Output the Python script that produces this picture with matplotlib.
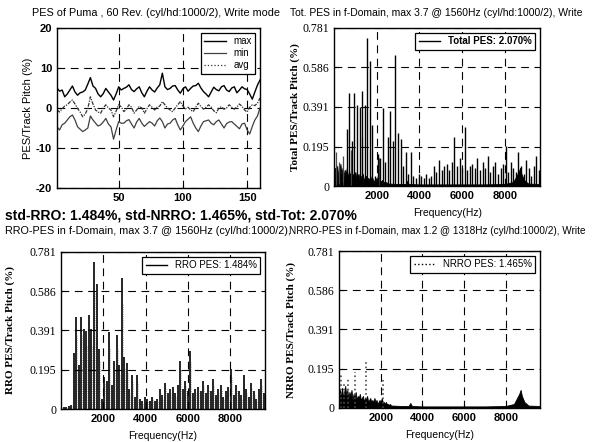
import numpy as np
import matplotlib
matplotlib.use('Agg')
import matplotlib.pyplot as plt

# ---- time domain PES (every 2nd rev sample) ----
sample = np.arange(2, 161, 2)
pes_max = [5.0, 4.2, 4.5, 2.8, 3.5, 4.5, 5.5, 4.0, 3.2, 3.8, 4.0, 4.5, 6.0, 7.6, 5.5, 4.9,
           3.5, 2.8, 3.6, 4.9, 4.0, 3.2, 2.0, 3.5, 5.3, 4.5, 4.9, 5.2, 5.8, 4.6, 4.1, 4.8,
           5.3, 3.8, 2.8, 4.2, 5.3, 4.5, 4.0, 5.0, 5.8, 8.7, 5.3, 4.6, 4.9, 5.5, 5.6, 4.5,
           3.7, 4.8, 5.3, 4.2, 4.9, 5.5, 5.6, 6.2, 5.0, 4.1, 3.5, 2.8, 4.0, 5.2, 4.6, 4.3,
           5.3, 5.6, 4.5, 4.1, 5.0, 5.3, 3.8, 4.5, 5.3, 4.8, 4.6, 3.5, 2.2, 4.0, 5.7, 7.0]
pes_min = [-4.7, -5.5, -4.2, -3.8, -3.0, -2.2, -1.75, -3.0, -4.7, -5.3, -5.9, -5.5, -5.0, -2.0,
           -3.0, -3.8, -4.5, -4.2, -3.5, -2.6, -4.0, -4.7, -7.8, -5.5, -3.4, -3.8, -3.8, -3.2,
           -2.9, -4.0, -5.0, -3.5, -2.6, -3.8, -4.6, -4.0, -3.4, -3.8, -4.5, -3.2, -2.5, -3.4,
           -5.0, -4.0, -3.8, -3.0, -2.6, -4.2, -5.5, -4.5, -3.4, -2.8, -2.2, -3.8, -5.0, -5.9,
           -4.5, -3.4, -3.2, -3.0, -3.8, -4.2, -3.4, -3.0, -4.0, -5.0, -3.9, -3.5, -3.4, -4.0,
           -4.6, -5.2, -4.0, -3.8, -5.5, -6.5, -4.6, -3.0, -2.0, 0.0]
pes_avg = [-0.5, -1.0, -0.2, 0.5, 0.8, 1.5, 2.0, 1.0, -0.1, -1.0, -2.2, -1.5, -0.1, 2.8, 1.0,
           -0.5, -1.0, -1.3, 0.0, 0.8, 0.0, -0.5, -2.2, -0.8, 0.8, 0.3, -0.9, -0.3, 0.8, 0.2,
           -1.3, -0.5, 0.4, 0.0, -1.3, -0.2, 0.8, 0.2, -0.5, 0.2, 0.5, 1.6, 0.8, 0.0, -0.5,
           -0.9, 0.0, 0.8, 1.6, 0.5, -0.2, 0.2, -0.5, -0.9, 0.2, 1.2, 0.4, -0.3, 0.2, 0.8,
           0.2, -0.7, -1.2, 0.0, 0.3, -0.3, 0.0, 0.8, 0.2, -0.3, 0.3, 1.0, 0.4, -0.5, -1.0,
           0.2, 0.8, 0.6, 1.2, 2.5]

# ---- RRO harmonics, 120 Hz spacing ----
harm_freq = np.arange(1, 81) * 120
rro_amp = [0.01, 0.01, 0.015, 0.02, 0.28, 0.46, 0.22, 0.46, 0.40, 0.39, 0.47, 0.40, 0.73, 0.62,
           0.30, 0.05, 0.16, 0.14, 0.385, 0.12, 0.24, 0.37, 0.22, 0.65, 0.26, 0.23, 0.10, 0.17,
           0.06, 0.17, 0.05, 0.04, 0.06, 0.05, 0.04, 0.06, 0.04, 0.05, 0.10, 0.07, 0.13, 0.08,
           0.10, 0.11, 0.08, 0.12, 0.24, 0.10, 0.14, 0.09, 0.29, 0.08, 0.10, 0.11, 0.09, 0.14,
           0.08, 0.12, 0.09, 0.15, 0.07, 0.10, 0.12, 0.06, 0.09, 0.11, 0.20, 0.07, 0.12, 0.09,
           0.07, 0.17, 0.10, 0.06, 0.13, 0.09, 0.05, 0.10, 0.15, 0.08]

# ---- NRRO: a few peaks + broadband floor ----
nrro_peak_freq = [100, 250, 430, 780, 1300, 2100]
nrro_peak_amp = [0.17, 0.12, 0.15, 0.18, 0.24, 0.14]

noise_freq = list(range(0, 2550, 50)) + [2600, 3000, 3350, 3420, 3500, 4000, 5000, 6000, 7000,
                                         8000, 8400, 8550, 8650, 8720, 8780, 8900, 9100, 9650]
noise_amp = [0.02, 0.09, 0.06, 0.10, 0.05, 0.08, 0.11, 0.06, 0.09, 0.05, 0.08, 0.06, 0.09, 0.04,
             0.07, 0.05, 0.08, 0.04, 0.06, 0.05, 0.07, 0.04, 0.05, 0.06, 0.03, 0.05, 0.04, 0.06,
             0.03, 0.04, 0.05, 0.03, 0.04, 0.03, 0.05, 0.03, 0.04, 0.02, 0.03, 0.04, 0.02, 0.05,
             0.03, 0.03, 0.02, 0.03, 0.02, 0.02, 0.015, 0.02, 0.012,
             0.012, 0.01, 0.01, 0.025, 0.01, 0.008, 0.008, 0.008, 0.008, 0.01, 0.02, 0.05, 0.07,
             0.09, 0.06, 0.03, 0.012, 0.01]

fticks = [0, 0.195, 0.391, 0.586, 0.781]
ftick_labels = ['0', '0.195', '0.391', '0.586', '0.781']

sans = 'Liberation Sans'
serif = 'Liberation Serif'
plt.rcParams['font.family'] = sans
plt.rcParams['axes.unicode_minus'] = False

fig = plt.figure(figsize=(5.97, 4.42), dpi=100)
W, H = 597.0, 442.0


def box(l, t, r, b):
    return [l / W, 1 - b / H, (r - l) / W, (b - t) / H]


def style(ax, serif_y=False):
    ax.grid(True, color='k', linestyle=(0, (7, 5)), linewidth=0.8)
    ax.tick_params(direction='in', length=3, width=0.8)
    for s in ax.spines.values():
        s.set_linewidth(1.0)
    for lab in ax.get_xticklabels():
        lab.set_fontfamily(sans)
        lab.set_fontweight('bold')
        lab.set_fontsize(8)
    for lab in ax.get_yticklabels():
        if serif_y:
            lab.set_fontfamily(serif)
            lab.set_fontsize(8.5)
        else:
            lab.set_fontfamily(sans)
            lab.set_fontweight('bold')
            lab.set_fontsize(8)


def legend(ax, lines, labels, bold=False):
    lg = ax.legend(lines, labels, loc='upper right', fancybox=False, framealpha=1,
                   edgecolor='k', handlelength=2.2, borderpad=0.35, labelspacing=0.2,
                   prop={'family': sans, 'size': 7, 'weight': 'bold' if bold else 'normal'})
    lg.get_frame().set_linewidth(0.9)
    return lg


def spectrum(ax):
    ax.set_xlim(0, 9650)
    ax.set_ylim(0, 0.781)
    ax.set_xticks([2000, 4000, 6000, 8000])
    ax.set_yticks(fticks)
    ax.set_yticklabels(ftick_labels)


# ---- top left: PES vs rev ----
ax1 = fig.add_axes(box(57, 28, 260, 188))
l1, = ax1.plot(sample, pes_max, color='k', lw=1.0)
l2, = ax1.plot(sample, pes_min, color='0.25', lw=0.9)
l3, = ax1.plot(sample, pes_avg, color='0.2', lw=0.9, linestyle=(0, (3, 1, 1, 1)))
ax1.set_xlim(2, 160)
ax1.set_ylim(-20, 20)
ax1.set_xticks([50, 100, 150])
ax1.set_yticks([-20, -10, 0, 10, 20])
ax1.set_ylabel('PES/Track Pitch (%)', fontsize=8, fontfamily=sans)
ax1.yaxis.set_label_coords(-0.12, 0.5)
style(ax1)
lg1 = legend(ax1, [l1, l2, l3], ['max', 'min', 'avg'])
lg1.get_lines()[2].set_linestyle(':')

# ---- top right: total PES spectrum ----
ax2 = fig.add_axes(box(334, 28, 540, 186))
ax2.fill_between(noise_freq, 0, noise_amp, color='k', lw=0.6)
ax2.vlines(nrro_peak_freq, 0, nrro_peak_amp, color='0.3', lw=0.9)
ax2.vlines(harm_freq, 0, rro_amp, color='k', lw=1.0)
spectrum(ax2)
ax2.set_ylabel('Total PES/Track Pitch (%)', fontsize=8, fontfamily=serif, fontweight='bold')
ax2.yaxis.set_label_coords(-0.165, 0.5)
ax2.set_xlabel('Frequency(Hz)', fontsize=7.5, fontfamily=sans)
ax2.xaxis.set_label_coords(0.55, -0.14)
style(ax2, serif_y=True)
legend(ax2, [plt.Line2D([], [], color='k', lw=1.0)], ['Total PES: 2.070%'], bold=True)

# ---- bottom left: RRO spectrum ----
ax3 = fig.add_axes(box(61, 252, 265, 409))
ax3.vlines(harm_freq + 35, 0, [a * 0.8 for a in rro_amp], color='0.6', lw=0.6,
           linestyle=':')
ax3.vlines(harm_freq, 0, rro_amp, color='k', lw=1.2)
spectrum(ax3)
ax3.set_ylabel('RRO PES/Track Pitch (%)', fontsize=8, fontfamily=serif, fontweight='bold')
ax3.yaxis.set_label_coords(-0.225, 0.5)
ax3.set_xlabel('Frequency(Hz)', fontsize=7.5, fontfamily=sans)
ax3.xaxis.set_label_coords(0.5, -0.14)
style(ax3, serif_y=True)
legend(ax3, [plt.Line2D([], [], color='k', lw=1.0)], ['RRO PES: 1.484%'])

# ---- bottom right: NRRO spectrum ----
ax4 = fig.add_axes(box(339, 251, 540, 408))
ax4.fill_between(noise_freq, 0, noise_amp, color='k', lw=0.6)
ax4.vlines(nrro_peak_freq, 0, nrro_peak_amp, color='0.3', lw=1.2, linestyle=':')
spectrum(ax4)
ax4.set_ylabel('NRRO PES/Track Pitch (%)', fontsize=8, fontfamily=serif, fontweight='bold')
ax4.yaxis.set_label_coords(-0.214, 0.5)
ax4.set_xlabel('Frequency(Hz)', fontsize=7.5, fontfamily=sans)
ax4.xaxis.set_label_coords(0.5, -0.14)
style(ax4, serif_y=True)
legend(ax4, [plt.Line2D([], [], color='k', lw=1.0, linestyle=':')], ['NRRO PES: 1.465%'])

# ---- titles and summary text ----
fig.text(156 / W, 1 - 13 / H, 'PES of Puma , 60 Rev. (cyl/hd:1000/2), Write mode',
         ha='center', va='center', fontsize=7.8)
fig.text(290 / W, 1 - 13 / H, 'Tot. PES in f-Domain, max 3.7 @ 1560Hz (cyl/hd:1000/2), Write',
         ha='left', va='center', fontsize=7.5)
fig.text(5 / W, 1 - 215 / H, 'std-RRO: 1.484%, std-NRRO: 1.465%, std-Tot: 2.070%',
         ha='left', va='center', fontsize=10, fontweight='bold')
fig.text(5 / W, 1 - 231 / H, 'RRO-PES in f-Domain, max 3.7 @ 1560Hz (cyl/hd:1000/2),',
         ha='left', va='center', fontsize=7.8)
fig.text(289 / W, 1 - 231 / H, 'NRRO-PES in f-Domain, max 1.2 @ 1318Hz (cyl/hd:1000/2), Write',
         ha='left', va='center', fontsize=7.2)

fig.savefig('out.png', dpi=100)
